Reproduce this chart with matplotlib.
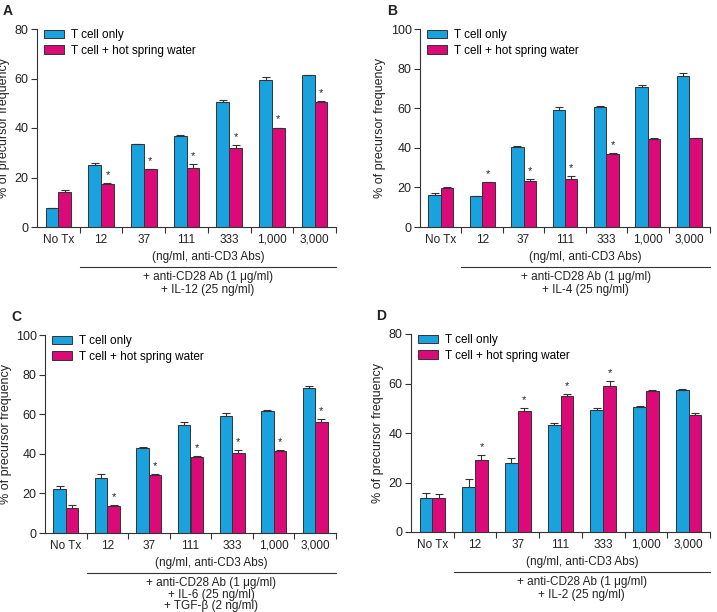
import matplotlib.pyplot as plt
import numpy as np

plt.rcParams['font.family'] = ['Liberation Sans', 'DejaVu Sans']

BLUE = '#1aa2de'
PINK = '#dc0a78'
EDGE = '#333333'
TXT = '#222222'

groups = ['No Tx', '12', '37', '111', '333', '1,000', '3,000']

# panel A (IL-12)
a_blue = [7.5, 25.0, 33.5, 36.8, 50.5, 59.5, 61.3]
a_blue_err = [0.3, 0.7, 0.2, 0.5, 0.9, 1.3, 0.2]
a_pink = [14.2, 17.5, 23.3, 24.0, 31.8, 40.0, 50.5]
a_pink_err = [0.6, 0.4, 0.3, 1.5, 1.2, 0.2, 0.3]
a_star = [0, 1, 1, 1, 1, 1, 1]

# panel B (IL-4)
b_blue = [16.0, 15.5, 40.5, 59.0, 60.5, 70.5, 76.3]
b_blue_err = [1.0, 0.0, 0.3, 1.5, 0.4, 1.0, 1.4]
b_pink = [19.6, 22.5, 23.0, 24.0, 37.0, 44.5, 44.8]
b_pink_err = [0.4, 0.4, 1.2, 1.8, 0.6, 0.3, 0.3]
b_star = [0, 1, 1, 1, 1, 0, 0]

# panel C (IL-6 + TGF-b)
c_blue = [22.4, 27.8, 43.0, 54.7, 59.2, 61.7, 73.0]
c_blue_err = [1.5, 2.0, 0.3, 1.2, 1.5, 0.3, 1.3]
c_pink = [12.8, 13.8, 29.2, 38.3, 40.3, 41.3, 56.2]
c_pink_err = [1.5, 0.3, 0.5, 0.5, 1.5, 0.5, 1.3]
c_star = [0, 1, 1, 1, 1, 1, 1]

# panel D (IL-2)
d_blue = [13.8, 18.3, 28.0, 43.2, 49.3, 50.4, 57.4]
d_blue_err = [2.0, 3.0, 1.8, 0.7, 0.8, 0.6, 0.3]
d_pink = [13.9, 29.2, 49.0, 55.1, 59.1, 57.0, 47.1]
d_pink_err = [1.3, 2.0, 1.0, 0.8, 2.0, 0.2, 1.0]
d_star = [0, 1, 1, 1, 1, 0, 0]

W, H = 717, 612
fig = plt.figure(figsize=(W / 100, H / 100), dpi=100)


def px_axes(left, right, top, bottom):
    return fig.add_axes([left / W, 1 - bottom / H, (right - left) / W, (bottom - top) / H])


def draw_panel(ax, blue, blue_err, pink, pink_err, star, ymax, letter, notes,
               note_step=0.064):
    x = np.arange(len(groups))
    bw = 0.30
    ax.bar(x - bw / 2, blue, bw, color=BLUE, edgecolor=EDGE, linewidth=0.7,
           label='T cell only', zorder=2)
    ax.bar(x + bw / 2, pink, bw, color=PINK, edgecolor=EDGE, linewidth=0.7,
           label='T cell + hot spring water', zorder=2)
    ax.errorbar(x - bw / 2, blue, yerr=[np.zeros(len(x)), blue_err], fmt='none',
                ecolor=EDGE, elinewidth=0.8, capsize=3, capthick=0.8, zorder=3)
    ax.errorbar(x + bw / 2, pink, yerr=[np.zeros(len(x)), pink_err], fmt='none',
                ecolor=EDGE, elinewidth=0.8, capsize=3, capthick=0.8, zorder=3)
    for i in range(len(x)):
        if star[i]:
            ax.text(x[i] + bw / 2, pink[i] + pink_err[i] + ymax * 0.015, '*',
                    ha='center', va='bottom', fontsize=8, color=TXT)

    ax.set_xlim(-0.5, 6.5)
    ax.set_ylim(0, ymax)
    ax.set_yticks(np.arange(0, ymax + 1, 20))
    ax.set_xticks(x)
    ax.set_xticklabels(groups)
    ax.set_xticks(np.arange(0.5, 7, 1), minor=True)
    ax.tick_params(axis='x', which='major', length=0, pad=5, labelsize=8.5, colors=TXT)
    ax.tick_params(axis='x', which='minor', length=4, width=0.8, color=EDGE)
    ax.tick_params(axis='y', length=4, width=0.8, color=EDGE, labelsize=9,
                   labelcolor=TXT, pad=2)
    for s in ['top', 'right']:
        ax.spines[s].set_visible(False)
    for s in ['left', 'bottom']:
        ax.spines[s].set_linewidth(0.8)
        ax.spines[s].set_color(EDGE)
    ax.set_ylabel('% of precursor frequency', fontsize=9, color=TXT, labelpad=3)

    ax.legend(loc='upper left', bbox_to_anchor=(0.0, 1.035), frameon=False,
              fontsize=8.5, handlelength=1.7, handleheight=0.7, handletextpad=0.6,
              labelspacing=0.3, borderaxespad=0.2)

    tr = ax.get_xaxis_transform()
    ax.text(3.5, -0.15, '(ng/ml, anti-CD3 Abs)', transform=tr, ha='center',
            va='center', fontsize=8.5, color=TXT)
    ax.plot([0.5, 6.5], [-0.202, -0.202], transform=tr, color=EDGE, lw=0.8,
            clip_on=False)
    for k, line in enumerate(notes):
        ax.text(3.5, -0.255 - note_step * k, line, transform=tr, ha='center',
                va='center', fontsize=8.5, color=TXT)
    ax.text(-0.115, 1.09, letter, transform=ax.transAxes, fontsize=10,
            fontweight='bold', color=TXT, ha='left', va='center')


ax_a = px_axes(37, 336, 29, 227)
draw_panel(ax_a, a_blue, a_blue_err, a_pink, a_pink_err, a_star, 80, 'A',
           ['+ anti-CD28 Ab (1 \u03bcg/ml)', '+ IL-12 (25 ng/ml)'])

ax_b = px_axes(420, 710, 29, 227)
draw_panel(ax_b, b_blue, b_blue_err, b_pink, b_pink_err, b_star, 100, 'B',
           ['+ anti-CD28 Ab (1 \u03bcg/ml)', '+ IL-4 (25 ng/ml)'])

ax_c = px_axes(45, 336, 335, 533)
draw_panel(ax_c, c_blue, c_blue_err, c_pink, c_pink_err, c_star, 100, 'C',
           ['+ anti-CD28 Ab (1 \u03bcg/ml)', '+ IL-6 (25 ng/ml)',
            '+ TGF-\u03b2 (2 ng/ml)'], note_step=0.057)

ax_d = px_axes(411, 710, 334, 532)
draw_panel(ax_d, d_blue, d_blue_err, d_pink, d_pink_err, d_star, 80, 'D',
           ['+ anti-CD28 Ab (1 \u03bcg/ml)', '+ IL-2 (25 ng/ml)'])

fig.savefig('out.png', dpi=100)
